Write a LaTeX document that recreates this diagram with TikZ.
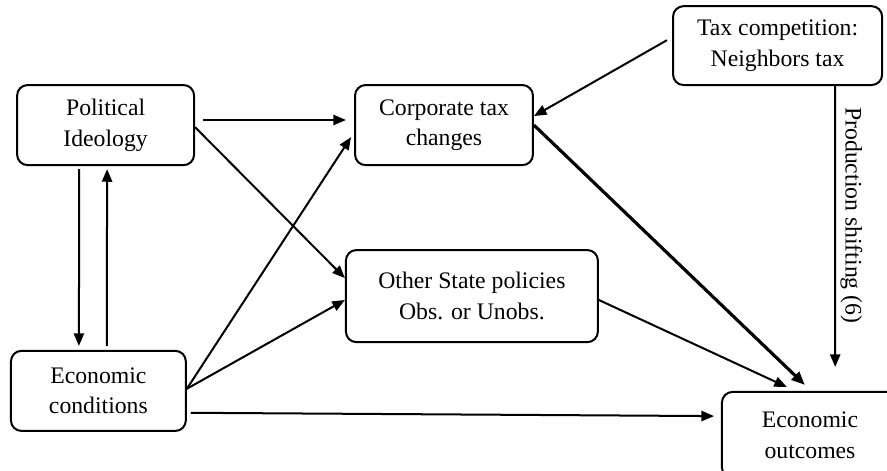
\documentclass[tikz,border=0pt]{standalone}
\usepackage{fontspec}
\setmainfont{Liberation Serif}
\usepackage{tikz}
\usetikzlibrary{arrows.meta, positioning, calc}

\begin{document}
\begin{tikzpicture}[
  box/.style={rectangle, draw=black, line width=1.9pt, rounded corners=10pt, align=center, font=\fontsize{22.5}{29}\selectfont},
  arrow/.style={-{Triangle[length=0.42cm, width=0.34cm]}, line width=1.9pt},
  thickarrow/.style={-{Triangle[length=0.45cm, width=0.36cm]}, line width=3pt}
]
  % Canvas
  \useasboundingbox (0,0) rectangle (29.567,-15.667);
  \clip (0,0) rectangle (29.567,-15.667);

  % Boxes
  \node[box, minimum width=5.9cm, minimum height=2.67cm] (ideology) at (3.52,-4.17) {Political\\Ideology};
  \node[box, minimum width=5.93cm, minimum height=2.67cm] (corptax) at (14.8,-4.17) {Corporate tax\\changes};
  \node[box, minimum width=6.97cm, minimum height=2.63cm] (taxcomp) at (25.92,-1.52) {Tax competition:\\Neighbors tax};
  \node[box, minimum width=8.4cm, minimum height=3.07cm] (policies) at (15.73,-9.87) {Other State policies\\Obs. or Unobs.};
  \node[box, minimum width=5.83cm, minimum height=2.67cm] (econcond) at (3.28,-13.03) {Economic\\conditions};
  \node[box, minimum width=5.87cm, minimum height=2.87cm] (outcomes) at (27.0,-14.5) {Economic\\outcomes};

  % Connectors from Political Ideology
  \draw[arrow] ([xshift=0.27cm, yshift=0.17cm]ideology.east) -- ([xshift=-0.27cm, yshift=0.17cm]corptax.west);
  \draw[arrow] ([yshift=-0.07cm]ideology.east) -- ([yshift=0.6cm]policies.west);
  \draw[arrow] ([xshift=-0.88cm, yshift=-0.1cm]ideology.south) -- ([xshift=-0.65cm, yshift=0.13cm]econcond.north);
  \draw[arrow] ([xshift=0.28cm, yshift=0.13cm]econcond.north) -- ([xshift=0.05cm, yshift=-0.1cm]ideology.south);

  % Connectors from Economic conditions
  \draw[arrow] ([yshift=0.07cm]econcond.east) -- ([xshift=-0.1cm, yshift=-0.4cm]corptax.west);
  \draw[arrow] ([yshift=0.07cm]econcond.east) -- ([yshift=-0.13cm]policies.west);
  \draw[arrow] ([xshift=0.13cm, yshift=-0.73cm]econcond.east) -- ([xshift=-0.23cm, yshift=0.63cm]outcomes.west);

  % Connectors to Economic outcomes
  \draw[thickarrow] (corptax.east) -- ([xshift=-0.17cm, yshift=0.2cm]outcomes.north);
  \draw[arrow] ([yshift=-0.13cm]policies.east) -- ([xshift=-0.77cm, yshift=0.13cm]outcomes.north);

  % Tax competition
  \coordinate (shiftend) at ($(taxcomp.south |- outcomes.north)+(1.92,0.8)$);
  \draw[arrow] ([xshift=-0.17cm, yshift=0.18cm]taxcomp.west) -- ([yshift=0.3cm]corptax.east);
  \draw[arrow] ([xshift=1.92cm]taxcomp.south) -- (shiftend)
    node[pos=0.46, anchor=south, rotate=-90, inner sep=4pt, font=\fontsize{22.5}{29}\selectfont] {Production shifting (6)};
\end{tikzpicture}
\end{document}
